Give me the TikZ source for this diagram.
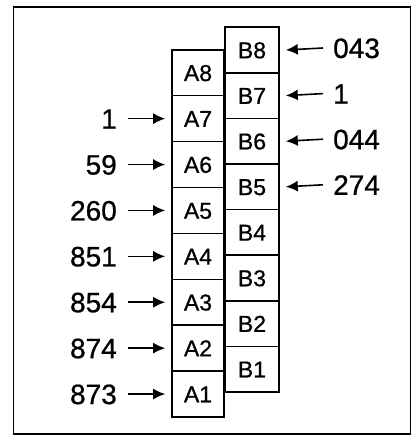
\documentclass[tikz,border=0pt]{standalone}
\usepackage{fontspec}
\setmainfont{Liberation Sans}
\newfontfamily\heavy{Liberation Sans}[FakeBold=0.8]
\usetikzlibrary{arrows.meta}
\begin{document}
\begin{tikzpicture}[x=1pt,y=-1pt,
  abox/.style={draw,line width=1.6pt,minimum width=52pt,minimum height=45.9pt,inner sep=0pt,font=\heavy\fontsize{23}{23}\selectfont,text height=16.5pt,text depth=-3pt},
  bbox/.style={draw,line width=1.6pt,minimum width=54pt,minimum height=45.6pt,inner sep=0pt,font=\heavy\fontsize{23}{23}\selectfont,text height=16.5pt,text depth=-3pt},
  num/.style={inner sep=0pt,font=\heavy\fontsize{28}{28}\selectfont,text height=20pt,text depth=0pt},
  arr/.style={line width=1.6pt,-{Latex[length=12pt,width=11pt]}}]
\useasboundingbox (0,0) rectangle (413,438);
\draw[line width=1.8pt] (13.5,7) rectangle (410.5,434);
% A column
\foreach \i in {1,...,8} {
  \node[abox] (A\i) at (198,{417-45.9*(\i-0.5)}) {A\i};
}
% B column
\foreach \i in {1,...,8} {
  \node[bbox] (B\i) at (252,{392-45.6*(\i-0.5)}) {B\i};
}
% left labels
\foreach \i/\t in {1/873,2/874,3/854,4/851,5/260,6/59,7/1} {
  \node[num,anchor=east] (lA\i) at (117,{417-45.9*(\i-0.5)}) {\t};
  \draw[arr] ([xshift=11pt]lA\i.east) -- ([xshift=-6pt]A\i.west);
}
% right labels
\foreach \i/\t in {8/043,7/1,6/044,5/274} {
  \node[num,anchor=west] (lB\i) at (333,{392-45.6*(\i-0.5)-2}) {\t};
  \draw[arr] ([xshift=-10pt]lB\i.west) -- ([xshift=6pt]B\i.east);
}
\end{tikzpicture}
\end{document}
